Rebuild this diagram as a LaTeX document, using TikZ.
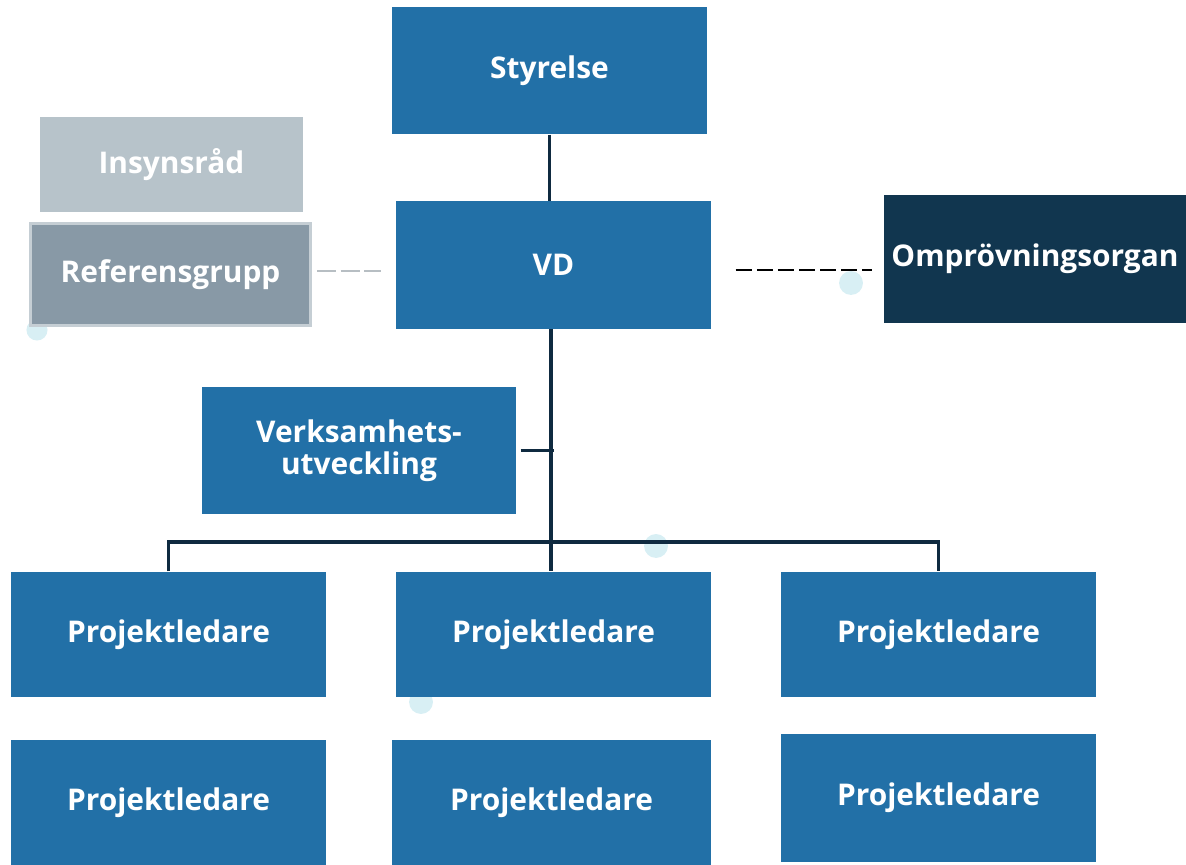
\documentclass[tikz,border=0pt]{standalone}
\usepackage{fontspec}
\setmainfont{Open Sans}
\definecolor{orgblue}{HTML}{2270A7}
\definecolor{orgnavy}{HTML}{11364F}
\definecolor{orgline}{HTML}{0F2A40}
\definecolor{insyngrey}{HTML}{B7C3CA}
\definecolor{refgrey}{HTML}{8899A6}
\definecolor{refedge}{HTML}{C5CED4}
\definecolor{dotblue}{HTML}{D8EFF4}
\begin{document}
\begin{tikzpicture}[x=0.01cm,y=-0.01cm,
    orgbox/.style={rectangle, fill=orgblue, text=white, inner sep=0pt, align=center,
        font=\bfseries\fontsize{8.5}{9}\selectfont, minimum width=3.15cm, minimum height=1.27cm},
    link/.style={draw=orgline, line width=1.1pt}]
    \useasboundingbox (0,0) rectangle (1186,865);
    \fill[dotblue] (37,330) circle [radius=3pt];
    \fill[dotblue] (851,283) circle [radius=3.4pt];
    \fill[dotblue] (656,546) circle [radius=3.4pt];
    \fill[dotblue] (421,702) circle [radius=3.4pt];
    \node[orgbox] (Sty) at (549.5,70.5) {Styrelse};
    \node[orgbox] (VD) at (553.5,265) {VD};
    \node[orgbox, fill=insyngrey, minimum width=2.63cm, minimum height=0.95cm] (Ins) at (171.5,164.5) {Insynsråd};
    \node[orgbox, fill=refgrey, draw=refedge, line width=0.85pt, minimum width=2.80cm, minimum height=1.02cm] (Ref) at (170.5,274.5) {Referensgrupp};
    \node[orgbox, fill=orgnavy, minimum width=3.02cm, minimum height=1.28cm] (Omp) at (1035,259) {Omprövningsorgan};
    \node[orgbox, minimum width=3.14cm] (Verk) at (359,450.5) {Verksamhets-\\utveckling};
    \node[orgbox, minimum height=1.25cm] (PA1) at (168.5,634.5) {Projektledare};
    \node[orgbox, minimum height=1.25cm] (PA2) at (553.5,634.5) {Projektledare};
    \node[orgbox, minimum height=1.25cm] (PA3) at (938.5,634.5) {Projektledare};
    \node[orgbox, minimum height=1.25cm] (PB1) at (168.5,802.5) {Projektledare};
    \node[orgbox, minimum width=3.19cm, minimum height=1.25cm] (PB2) at (551.5,802.5) {Projektledare};
    \node[orgbox, minimum height=1.28cm] (PB3) at (938.5,798) {Projektledare};
    \draw[link] (Sty.south) -- (Sty.south |- VD.north);
    \draw[link] ([xshift=-0.7pt]VD.south) -- ([xshift=-0.7pt]PA2.north);
    \draw[link, shorten <=1.1pt] (Verk.east) -- (Verk.east -| VD.south);
    \draw[link] (PA1.north) -- ++(0,-29) -| (PA3.north);
    \draw[refedge!80!gray, line width=0.6pt, dash pattern=on 5.5pt off 1.2pt, shorten <=1.4pt, shorten >=4pt]
        ([yshift=1pt]Ref.east) -- ([yshift=1pt]Ref.east -| VD.west);
    \draw[black, line width=0.6pt, dash pattern=on 4.6pt off 1.4pt, shorten <=6.8pt, shorten >=3.1pt]
        ([yshift=-1.4pt]VD.east) -- ([yshift=-1.4pt]VD.east -| Omp.west);
\end{tikzpicture}
\end{document}
